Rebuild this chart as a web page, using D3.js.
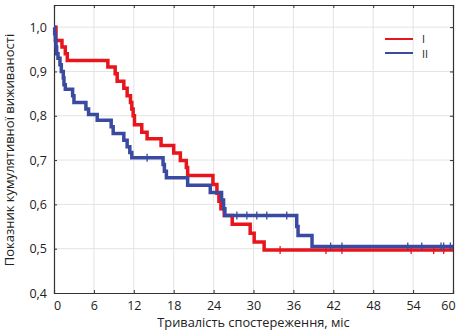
<!DOCTYPE html>
<html><head><meta charset="utf-8">
<script src="https://cdn.jsdelivr.net/npm/d3@7"></script>
<style>body{margin:0;background:#fff}svg{display:block}text{font-family:"Open Sans",sans-serif;fill:#222}</style>
</head><body><svg id="c" width="459" height="331"></svg>
<script>
const xTicks = [0,6,12,18,24,30,36,42,48,54,60];
const yTicks = [0.4,0.5,0.6,0.7,0.8,0.9,1.0];
const groupNames = ["I","II"];
// Group I: drop times and survival after each drop
const timesI = [0,0.3,1.2,1.7,2.0,8.1,9.2,9.5,10.5,11.0,11.5,11.7,11.9,12.1,13.2,14.0,16.1,18.0,19.0,19.9,20.1,23.9,24.5,24.8,25.1,25.6,26.8,29.5,30.1,31.6];
const survI  = [1.0,0.97,0.955,0.94,0.925,0.91,0.895,0.878,0.862,0.845,0.83,0.815,0.80,0.78,0.763,0.748,0.733,0.716,0.699,0.683,0.665,0.645,0.625,0.607,0.59,0.575,0.555,0.535,0.515,0.497];
const censI = [34.0,40.9,43.3,53.7,57.1,58.6];
// Group II
const timesII = [0,0.1,0.2,0.3,0.4,0.6,0.9,1.1,1.4,1.5,1.7,2.8,3.0,4.8,5.2,6.5,8.6,8.9,10.5,11.0,11.4,11.7,16.4,16.6,16.9,20.1,23.5,25.2,25.5,25.7,36.5,36.7,38.8];
const survII  = [1.0,0.985,0.97,0.955,0.94,0.93,0.915,0.9,0.885,0.87,0.86,0.845,0.83,0.815,0.803,0.79,0.775,0.76,0.745,0.73,0.717,0.705,0.69,0.675,0.66,0.643,0.627,0.61,0.59,0.575,0.55,0.53,0.505];
const censII = [14.0,27.5,29.0,30.5,32.0,35.0,41.6,43.3,53.2,55.3,58.2,58.6,59.6];
const xLabel = "Тривалість спостереження, міс";
const yLabel = "Показник кумулятивної виживаності";
const colors = ["#e8151d","#3a4aa0"];

const svg = d3.select("#c");
const L=54,R=453,T=5,B=293;
const x = d3.scaleLinear().domain([0,60]).range([L,R]);
const y = d3.scaleLinear().domain([0.4,1.05]).range([B,T]);

// grid
svg.append("g").selectAll("line").data(xTicks.slice(1,-1)).join("line")
  .attr("x1",d=>x(d)).attr("x2",d=>x(d)).attr("y1",T).attr("y2",B)
  .attr("stroke","#e3e3e3").attr("stroke-width",1);
svg.append("g").selectAll("line").data(yTicks.slice(1)).join("line")
  .attr("x1",L).attr("x2",R).attr("y1",d=>y(d)).attr("y2",d=>y(d))
  .attr("stroke","#e3e3e3").attr("stroke-width",1);

// axes
const fmt = d=>d3.format(".1f")(d).replace(".",",");
const ax = svg.append("g").attr("transform",`translate(0,${B})`)
  .call(d3.axisBottom(x).tickValues(xTicks).tickSize(-3).tickPadding(8));
const ay = svg.append("g").attr("transform",`translate(${L},0)`)
  .call(d3.axisLeft(y).tickValues(yTicks).tickFormat(fmt).tickSize(-3).tickPadding(7));
const at = svg.append("g").attr("transform",`translate(0,${T})`)
  .call(d3.axisTop(x).tickValues(xTicks).tickSize(-3).tickFormat(""));
const ar = svg.append("g").attr("transform",`translate(${R},0)`)
  .call(d3.axisRight(y).tickValues(yTicks).tickSize(-3).tickFormat(""));
[ax,ay,at,ar].forEach(g=>{
  g.select(".domain").attr("stroke","#333").attr("stroke-width",1.2);
  g.selectAll(".tick line").attr("stroke","#333");
  g.selectAll("text").attr("font-family","'Open Sans',sans-serif").attr("font-size",12.5).attr("fill","#222");
});
ax.selectAll(".tick text").attr("dx",d=>d===0?3:(d===60?-5:0));

// curves
const groups = [
  {t:timesI,s:survI,c:censI,col:colors[0]},
  {t:timesII,s:survII,c:censII,col:colors[1]}
];
const line = d3.line().x(d=>x(d[0])).y(d=>y(d[1])).curve(d3.curveStepAfter);
function survAt(g,t){let v=g.s[0];for(let i=0;i<g.t.length;i++){if(g.t[i]<=t)v=g.s[i];}return v;}
groups.forEach(g=>{
  const pts = g.t.map((t,i)=>[t,g.s[i]]);
  pts.push([60,g.s[g.s.length-1]]);
  svg.append("path").datum(pts).attr("d",line).attr("fill","none")
    .attr("stroke",g.col).attr("stroke-width",3.5).attr("stroke-linejoin","miter");
  svg.append("g").selectAll("line").data(g.c).join("line")
    .attr("x1",d=>x(d)).attr("x2",d=>x(d))
    .attr("y1",d=>y(survAt(g,d))-4).attr("y2",d=>y(survAt(g,d))+4)
    .attr("stroke",g.col).attr("stroke-width",1.3);
});

// legend
const lg = svg.append("g");
groupNames.forEach((n,i)=>{
  const yy = 39 + i*14;
  lg.append("line").attr("x1",385).attr("x2",413).attr("y1",yy).attr("y2",yy)
    .attr("stroke",colors[i]).attr("stroke-width",2);
  lg.append("text").attr("x",422).attr("y",yy+3.5+i*1.2).attr("font-size",11).text(n);
});

// axis titles
svg.append("text").attr("x",(L+R)/2).attr("y",326.5).attr("text-anchor","middle")
  .attr("font-size",12.8).text(xLabel);
svg.append("text").attr("transform",`translate(14,150) rotate(-90)`)
  .attr("text-anchor","middle").attr("font-size",13).text(yLabel);
</script></body></html>
